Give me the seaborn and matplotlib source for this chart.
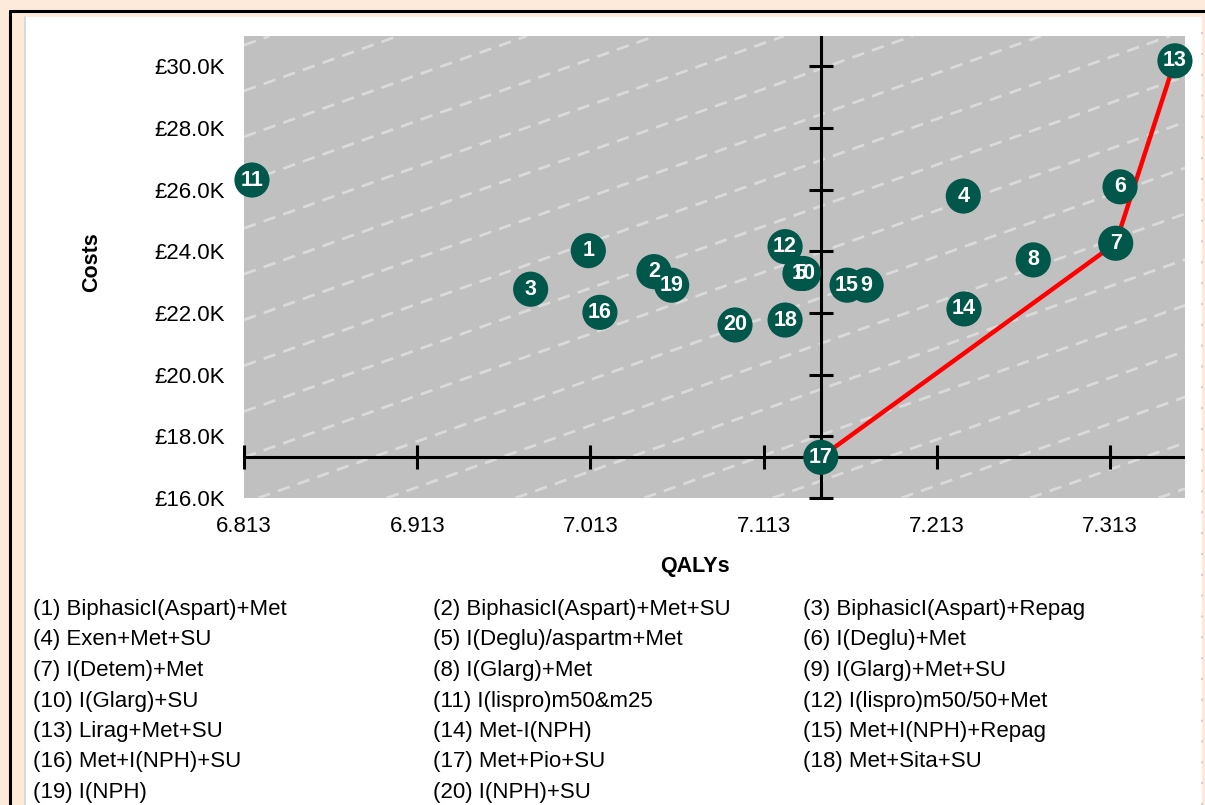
import numpy as np
import pandas as pd
import seaborn as sns
import matplotlib.pyplot as plt
from matplotlib.lines import Line2D
from matplotlib.patches import Rectangle

# strategies, numbered 1..20 in the order of the key below the chart
strategy_ids = list(range(1, 21))
strategy_names = [
    "BiphasicI(Aspart)+Met", "BiphasicI(Aspart)+Met+SU", "BiphasicI(Aspart)+Repag",
    "Exen+Met+SU", "I(Deglu)/aspartm+Met", "I(Deglu)+Met",
    "I(Detem)+Met", "I(Glarg)+Met", "I(Glarg)+Met+SU",
    "I(Glarg)+SU", "I(lispro)m50&m25", "I(lispro)m50/50+Met",
    "Lirag+Met+SU", "Met-I(NPH)", "Met+I(NPH)+Repag",
    "Met+I(NPH)+SU", "Met+Pio+SU", "Met+Sita+SU",
    "I(NPH)", "I(NPH)+SU",
]
qalys = [7.0118, 7.0497, 6.9785, 7.2283, 7.1340, 7.3188, 7.3163, 7.2687, 7.1722, 7.1360,
         6.8176, 7.1254, 7.3505, 7.2287, 7.1612, 7.0185, 7.1460, 7.1254, 7.0599, 7.0965]
costs_k = [24.02, 23.34, 22.77, 25.79, 23.28, 26.09, 24.26, 23.72, 22.90, 23.28,
           26.31, 24.15, 30.175, 22.13, 22.90, 22.02, 17.32, 21.77, 22.90, 21.61]

# efficiency frontier: 17 -> 7 -> 13
frontier_ids = [17, 7, 13]
reference_id = 17

x_ticks = [6.813, 6.913, 7.013, 7.113, 7.213, 7.313]
y_ticks = [16, 18, 20, 22, 24, 26, 28, 30]
wtp_k_per_qaly = 20.0  # slope of the background iso-lines

df = pd.DataFrame({"id": strategy_ids, "qaly": qalys, "cost": costs_k})
front = df.set_index("id").loc[frontier_ids].reset_index()
x0 = df.loc[df.id == reference_id, "qaly"].iloc[0]
y0 = df.loc[df.id == reference_id, "cost"].iloc[0]

W, H = 1205, 805
sns.set_style("white")
plt.rcParams["font.family"] = ["Liberation Sans", "DejaVu Sans"]
plt.rcParams["text.color"] = "black"

fig = plt.figure(figsize=(W / 100, H / 100), dpi=100)
fig.patch.set_facecolor("#FDEADA")

# worksheet-ish frame around the chart
fig.add_artist(Rectangle((25 / W, 0), (1202 - 25) / W, 1 - 17 / H, transform=fig.transFigure,
                         facecolor="white", edgecolor="none", zorder=-3))
fig.add_artist(Line2D([25 / W, 25 / W], [0, 1 - 17 / H], transform=fig.transFigure,
                      color="#D9D9D9", lw=1.5, zorder=-2))
fig.add_artist(Line2D([1202 / W, 1202 / W], [0, 1 - 17 / H], transform=fig.transFigure,
                      color="#D0D0D0", lw=1.5, ls=(0, (1, 9)), zorder=-2))
fig.add_artist(Line2D([10 / W, 1], [1 - 11 / H, 1 - 11 / H], transform=fig.transFigure,
                      color="black", lw=2.2, zorder=-1))
fig.add_artist(Line2D([10 / W, 10 / W], [0, 1 - 11 / H], transform=fig.transFigure,
                      color="black", lw=2.2, zorder=-1))

ax = fig.add_axes([244 / W, 1 - 498 / H, (1185 - 244) / W, (498 - 36) / H])
ax.set_facecolor("#C0C0C0")
ax.set_xlim(6.813, 7.3563)
ax.set_ylim(16, 30.98)

# dashed willingness-to-pay lines in the background
for c in np.arange(17.32 - 8 * 1.485, 31, 1.485):
    ax.axline((6.813, c), slope=wtp_k_per_qaly, color="#DADADA", lw=2,
              ls=(0, (4.5, 3)), zorder=1)

# axes crossing at the reference strategy
ax.axhline(y0, color="black", lw=2.2, zorder=2)
ax.axvline(x0, color="black", lw=2.2, zorder=2)
ax.plot(x_ticks, [y0] * len(x_ticks), ls="none", marker="|", ms=17, mew=2.2,
        color="black", zorder=2, clip_on=False)
ax.plot([x0] * len(y_ticks), y_ticks, ls="none", marker="_", ms=17, mew=2.2,
        color="black", zorder=2, clip_on=False)

sns.lineplot(data=front, x="qaly", y="cost", sort=False, color="red", lw=3.2,
             zorder=3, ax=ax)
sns.scatterplot(data=df, x="qaly", y="cost", s=640, color="#00574A", edgecolor="none",
                zorder=4, ax=ax, clip_on=False)
for _, r in df.iterrows():
    ax.text(r.qaly, r.cost, str(int(r.id)), color="white", fontsize=15.5, fontweight="bold",
            ha="center", va="center", zorder=5)

ax.set_xticks(x_ticks)
ax.set_xticklabels([f"{v:.3f}" for v in x_ticks])
ax.set_yticks(y_ticks)
ax.set_yticklabels([f"£{v:.1f}K" for v in y_ticks])
ax.tick_params(axis="both", length=0, labelsize=16, labelcolor="black")
ax.tick_params(axis="y", pad=14)
ax.tick_params(axis="x", pad=13)
ax.set_xlabel("")
ax.set_ylabel("")
for s in ax.spines.values():
    s.set_visible(False)

fig.text(92 / W, 1 - 262 / H, "Costs", rotation=90, fontsize=15.5, fontweight="bold",
         ha="center", va="center")
fig.text(695 / W, 1 - 566 / H, "QALYs", fontsize=15.5, fontweight="bold",
         ha="center", va="center")

# key under the chart, three columns
col_x = [33, 433, 803]
row_y = [609, 639, 670, 701, 731, 761, 792]
for i, (sid, name) in enumerate(zip(strategy_ids, strategy_names)):
    fig.text(col_x[i % 3] / W, 1 - row_y[i // 3] / H, f"({sid}) {name}", fontsize=16,
             ha="left", va="center")

fig.savefig("out.png", dpi=100, facecolor=fig.get_facecolor())
